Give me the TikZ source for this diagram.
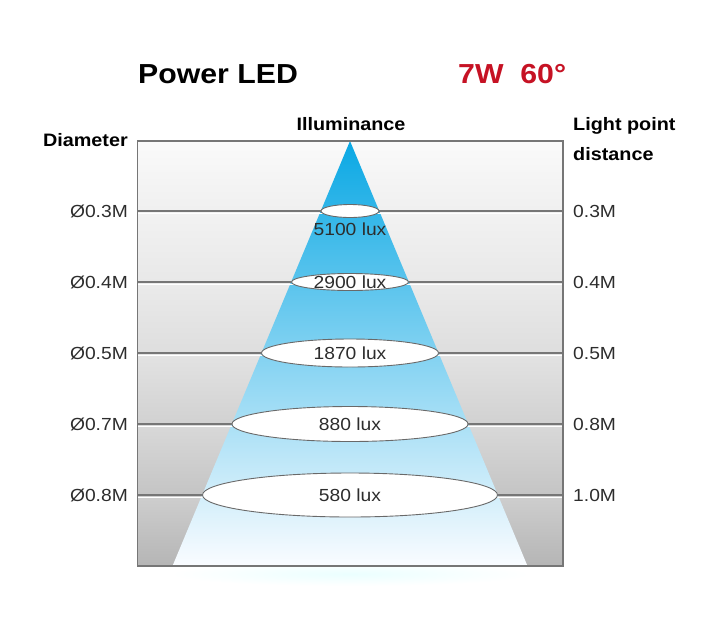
\documentclass[tikz,border=0pt]{standalone}
\usepackage{fontspec}
\setmainfont{Liberation Sans}[FakeStretch=1.1]
\usetikzlibrary{shapes.geometric}
\definecolor{ledred}{RGB}{198,18,36}
\definecolor{beamtop}{RGB}{10,168,228}
\definecolor{beammid}{RGB}{120,203,242}
\definecolor{beambot}{RGB}{250,252,255}
\definecolor{rulegray}{RGB}{118,118,118}
\definecolor{lensrim}{RGB}{105,105,105}
\definecolor{inktext}{RGB}{45,45,45}

\begin{document}
\begin{tikzpicture}[x=1pt, y=-1pt,
    every node/.style={inner sep=0pt},
    lens/.style={ellipse, draw=lensrim, fill=white, line width=0.9pt},
    rule/.style={draw=rulegray, line width=1.6pt},
    headtext/.style={font=\fontsize{18}{20}\selectfont\bfseries},
    ticktext/.style={font=\fontsize{17.5}{20}\selectfont, text=inktext},
  ]
  \useasboundingbox (0,0) rectangle (720,630);
  \fill[white] (0,0) rectangle (720,630);
  % grey bands behind the beam
  \foreach \a/\b/\ct/\cb in {141/211/2/6, 211/282/5/9, 282/353/8/13,
      353/424/11/18, 424/495/15/23, 495/566/19/29}
    \shade[top color=black!\ct, bottom color=black!\cb] (137.5,\a) rectangle (563,\b);
  \shade[inner color=cyan!8, outer color=white] (350,574) ellipse [x radius=180, y radius=12];
  % the beam
  \shade[top color=beamtop, middle color=beammid, bottom color=beambot]
    (350,141) -- (527.5,566) -- (172.5,566) -- cycle;
  \foreach \n/\y/\w/\h/\dy/\dia/\dist/\lux in {1/211/58/13/18/0.3/0.3/5100,
      2/282/117/17/0/0.4/0.4/2900, 3/353/177/28/0/0.5/0.5/1870,
      4/424/236/35/0/0.7/0.8/880, 5/495/295/44/0/0.8/1.0/580}{
    \coordinate (dl\n) at (137.5,\y);
    \coordinate (dr\n) at (563,\y);
    \draw[white, line width=1pt] (137.5,\y+2) -- (563,\y+2);
    \node[lens, minimum width=\w, minimum height=\h] (lens\n) at (350,\y) {};
    \draw[rule] (dl\n) -- (lens\n.west);
    \draw[rule] (lens\n.east) -- (dr\n);
    \node[ticktext, anchor=base] (lux\n) at (350,\y+\dy+6.3) {\lux{} lux};
    \node[ticktext, anchor=base east] (dia\n) at (128,\y+6.3) {Ø\dia M};
    \node[ticktext, anchor=base west] (dist\n) at (573,\y+6.3) {\dist M};
  }
  \draw[rulegray, line width=1.5pt] (137.5,141) rectangle (563,566);
  % headings
  \node[font=\fontsize{27.5}{30}\selectfont\bfseries, anchor=base west] (title) at (138,83) {Power LED};
  \node[font=\fontsize{27.5}{30}\selectfont\bfseries, text=ledred, anchor=base west] (spec) at (458,83) {7W\ \ 60°};
  \node[headtext, anchor=base] (illum) at (351,130) {Illuminance};
  \node[headtext, anchor=base east] (diam) at (128,146.5) {Diameter};
  \node[headtext, anchor=base west] (light) at (573,130) {Light point};
  \node[headtext, anchor=base west] (dist) at (573,160) {distance};
\end{tikzpicture}
\end{document}
